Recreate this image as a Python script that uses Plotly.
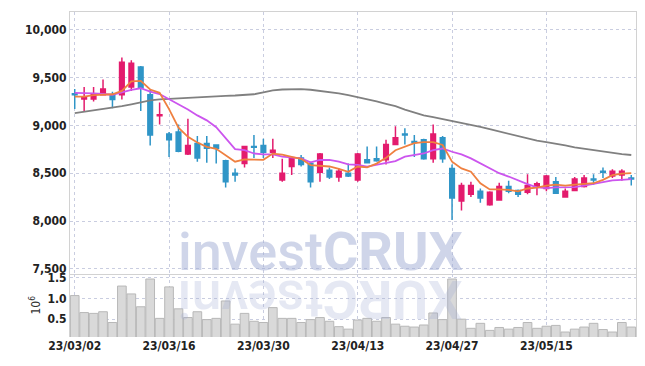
import plotly.graph_objects as go

# ---------------- data ----------------
dates = ["23/03/02","23/03/03","23/03/06","23/03/07","23/03/08","23/03/09","23/03/10","23/03/13","23/03/14","23/03/15",
         "23/03/16","23/03/17","23/03/20","23/03/21","23/03/22","23/03/23","23/03/24","23/03/27","23/03/28","23/03/29",
         "23/03/30","23/03/31","23/04/03","23/04/04","23/04/05","23/04/06","23/04/07","23/04/10","23/04/11","23/04/12",
         "23/04/13","23/04/14","23/04/17","23/04/18","23/04/19","23/04/20","23/04/21","23/04/24","23/04/25","23/04/26",
         "23/04/27","23/04/28","23/05/02","23/05/03","23/05/04","23/05/08","23/05/09","23/05/10","23/05/11","23/05/12",
         "23/05/15","23/05/16","23/05/17","23/05/18","23/05/19","23/05/22","23/05/23","23/05/24","23/05/25","23/05/26"]

open_ = [9330,9275,9275,9320,9320,9320,9400,9610,9320,9100,
         8910,8930,8700,8810,8810,8795,8630,8500,8600,8780,
         8790,8720,8430,8570,8660,8600,8510,8530,8460,8500,
         8430,8640,8650,8640,8800,8910,8830,8850,8650,8870,
         8550,8210,8280,8310,8170,8220,8360,8320,8300,8360,
         8340,8410,8250,8320,8360,8440,8520,8470,8480,8450]
high_ = [9380,9400,9400,9480,9350,9710,9680,9620,9370,9240,
         8930,9010,9070,8890,8890,8800,8640,8550,8780,8900,
         8860,8860,8650,8680,8690,8620,8710,8560,8550,8600,
         8710,8780,8780,8850,8990,8970,8900,8860,9010,8890,
         8590,8400,8410,8340,8310,8400,8420,8330,8490,8410,
         8480,8460,8340,8460,8480,8490,8560,8540,8540,8480]
low_ = [9170,9150,9250,9320,9180,9270,9360,9150,8790,9010,
        8670,8720,8690,8620,8610,8600,8350,8410,8560,8660,
        8660,8660,8410,8480,8570,8350,8410,8440,8410,8460,
        8410,8610,8620,8590,8800,8800,8670,8640,8610,8610,
        8010,8110,8250,8190,8160,8220,8290,8250,8280,8270,
        8310,8290,8250,8320,8350,8380,8450,8450,8420,8370]
close_ = [9320,9300,9330,9380,9270,9660,9650,9390,8900,9110,
          8850,8730,8790,8660,8760,8760,8410,8480,8780,8770,
          8720,8740,8500,8660,8590,8410,8700,8460,8520,8470,
          8700,8610,8630,8800,8870,8900,8820,8650,8910,8650,
          8240,8370,8370,8240,8300,8360,8310,8280,8370,8390,
          8470,8290,8310,8440,8450,8430,8510,8520,8520,8440]

ma5 = [9300,9300,9315,9320,9325,9360,9460,9465,9375,9340,
       9170,8975,8880,8820,8775,8755,8690,8620,8645,8645,
       8640,8705,8695,8670,8650,8585,8575,8570,8545,8515,
       8570,8560,8600,8660,8740,8775,8815,8825,8825,8795,
       8620,8550,8515,8395,8330,8330,8325,8310,8340,8350,
       8370,8380,8370,8380,8385,8395,8430,8480,8495,8500]
ma20 = [9340,9340,9335,9328,9320,9345,9372,9388,9352,9327,
        9276,9224,9166,9104,9052,8980,8860,8752,8740,8706,
        8696,8696,8672,8662,8655,8613,8638,8638,8620,8593,
        8586,8569,8586,8603,8627,8672,8689,8706,8741,8758,
        8724,8696,8655,8603,8551,8500,8465,8424,8386,8351,
        8344,8351,8355,8355,8369,8386,8407,8424,8431,8438]
ma_long = [9127,9140,9155,9170,9185,9200,9220,9245,9262,9272,
           9278,9285,9290,9295,9300,9305,9308,9312,9315,9325,
           9345,9365,9375,9380,9378,9372,9362,9350,9335,9315,
           9295,9270,9250,9225,9200,9165,9135,9105,9085,9065,
           9045,9030,9005,8985,8960,8935,8910,8885,8860,8840,
           8825,8810,8790,8770,8755,8740,8725,8712,8700,8690]

volume_m = [1.07,0.66,0.64,0.68,0.42,1.30,1.11,0.80,1.47,0.52,
            1.28,0.75,0.54,0.68,0.49,0.52,0.94,0.38,0.64,0.45,
            0.42,0.78,0.52,0.52,0.42,0.49,0.54,0.45,0.32,0.26,
            0.48,0.52,0.45,0.54,0.38,0.33,0.31,0.36,0.65,0.49,
            1.47,0.50,0.28,0.40,0.23,0.30,0.26,0.30,0.42,0.28,
            0.33,0.35,0.19,0.26,0.31,0.40,0.25,0.19,0.42,0.31]

x_tick_labels = ["23/03/02","23/03/16","23/03/30","23/04/13","23/04/27","23/05/15"]
price_ticks = [7500,8000,8500,9000,9500,10000]
vol_ticks = [0.5,1.0,1.5]
vol_tick_text = ["0.5","1.0","1.5"]

# ---------------- style ----------------
RED = "#e31b6d"
BLUE = "#2f95c7"
GRID = "#c9cde0"
FRAME = "#d2d2d2"
FONT = "DejaVu Sans Condensed, Liberation Sans Narrow, sans-serif"
TICKFONT = dict(family=FONT, size=12, color="#222222", weight="bold")

fig = go.Figure()

fig.add_trace(go.Candlestick(
    x=dates, open=open_, high=high_, low=low_, close=close_,
    xaxis="x", yaxis="y", whiskerwidth=0,
    increasing=dict(line=dict(color=RED, width=1.5), fillcolor=RED),
    decreasing=dict(line=dict(color=BLUE, width=1.5), fillcolor=BLUE),
    showlegend=False, hoverinfo="skip"))

for vals, col in [(ma_long, "#808080"), (ma20, "#cc55ee"), (ma5, "#ef8040")]:
    fig.add_trace(go.Scatter(x=dates, y=vals, mode="lines", xaxis="x", yaxis="y",
                             line=dict(color=col, width=1.8), showlegend=False, hoverinfo="skip"))

fig.add_trace(go.Bar(x=dates, y=volume_m, xaxis="x2", yaxis="y2",
                     marker=dict(color="#d9d9d9", line=dict(color="#b8b8b8", width=1)),
                     showlegend=False, hoverinfo="skip"))

common_x = dict(type="category", range=[-0.5, 59.5], tickvals=x_tick_labels, ticktext=x_tick_labels,
                showgrid=True, gridcolor=GRID, griddash="dot", gridwidth=1, zeroline=False)

# page body has an 8px default margin, so the figure is sized to end at the window edge
fig.update_layout(
    width=637, height=358,
    margin=dict(l=62, r=9, t=1, b=29),
    paper_bgcolor="white", plot_bgcolor="white",
    bargap=0.08,
    xaxis=dict(**common_x, anchor="y", domain=[0, 1], showticklabels=False, ticks="",
               rangeslider=dict(visible=False), showline=True, mirror=True,
               linecolor=FRAME, linewidth=1),
    xaxis2=dict(**common_x, anchor="y2", domain=[0, 1], matches="x", ticks="",
                tickfont=TICKFONT, showline=False),
    yaxis=dict(domain=[0.195, 1], range=[7450, 10185], tickvals=price_ticks, tickformat=",d",
               tickfont=TICKFONT, showgrid=True, gridcolor=GRID, griddash="dot",
               zeroline=False, showline=True, mirror=True, linecolor=FRAME, linewidth=1, ticks=""),
    yaxis2=dict(domain=[0, 0.195], range=[0.07, 1.6], tickvals=vol_ticks, ticktext=vol_tick_text,
                tickfont=TICKFONT, showgrid=True, gridcolor=GRID, griddash="dot",
                zeroline=False, showline=True, mirror=True, linecolor=FRAME, linewidth=1, ticks="",
                title=dict(text="10<sup>6</sup>", font=dict(family=FONT, size=12, color="#333333"),
                           standoff=4)),
)

# watermark + reflection
fig.add_annotation(text="invest<b>CRUX</b>", xref="paper", yref="paper", x=0.442, y=0.16,
                   xanchor="center", yanchor="bottom", showarrow=False,
                   font=dict(family="Roboto, sans-serif", size=54, weight=500,
                             color="rgba(160,172,212,0.5)"))
fig.add_annotation(text="<b>XURC</b>tsevni", xref="paper", yref="paper", x=0.442, y=0.116,
                   xanchor="center", yanchor="middle", showarrow=False, textangle=180,
                   font=dict(family="Roboto, sans-serif", size=54, weight=500,
                             color="rgba(160,172,212,0.28)"))

fig.write_html("out.html")
